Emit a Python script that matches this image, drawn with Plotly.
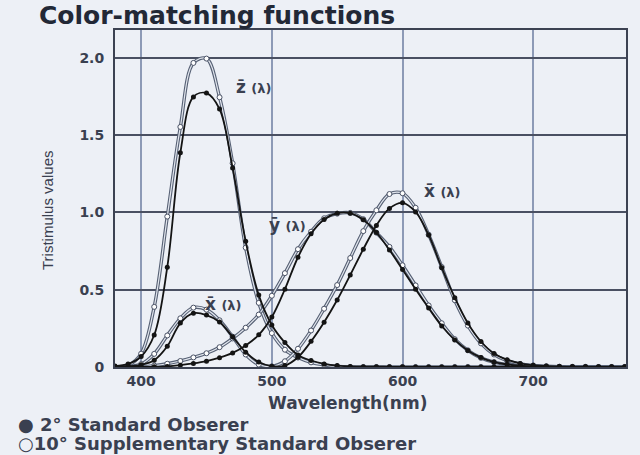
import plotly.graph_objects as go

# Wavelength samples (nm)
wavelengths = [380, 390, 400, 410, 420, 430, 440, 450, 460, 470,
               480, 490, 500, 510, 520, 530, 540, 550, 560, 570,
               580, 590, 600, 610, 620, 630, 640, 650, 660, 670,
               680, 690, 700, 710, 720, 730, 740, 750, 760, 770]

# 2-degree standard observer
x2 = [0.001, 0.004, 0.014, 0.044, 0.134, 0.284, 0.348, 0.336, 0.291, 0.195,
      0.096, 0.032, 0.005, 0.009, 0.063, 0.166, 0.290, 0.433, 0.595, 0.762,
      0.916, 1.026, 1.062, 1.003, 0.854, 0.642, 0.448, 0.284, 0.165, 0.087,
      0.047, 0.023, 0.011, 0.006, 0.003, 0.001, 0.001, 0.000, 0.000, 0.000]
y2 = [0.000, 0.000, 0.000, 0.001, 0.004, 0.012, 0.023, 0.038, 0.060, 0.091,
      0.139, 0.208, 0.323, 0.503, 0.710, 0.862, 0.954, 0.995, 0.995, 0.952,
      0.870, 0.757, 0.631, 0.503, 0.381, 0.265, 0.175, 0.107, 0.061, 0.032,
      0.017, 0.008, 0.004, 0.002, 0.001, 0.001, 0.000, 0.000, 0.000, 0.000]
z2 = [0.006, 0.020, 0.068, 0.207, 0.646, 1.386, 1.747, 1.772, 1.669, 1.288,
      0.813, 0.465, 0.272, 0.158, 0.078, 0.042, 0.020, 0.009, 0.004, 0.002,
      0.002, 0.001, 0.001, 0.000, 0.000, 0.000, 0.000, 0.000, 0.000, 0.000,
      0.000, 0.000, 0.000, 0.000, 0.000, 0.000, 0.000, 0.000, 0.000, 0.000]

# 10-degree supplementary standard observer
x10 = [0.000, 0.002, 0.019, 0.085, 0.204, 0.315, 0.384, 0.371, 0.302, 0.196,
       0.081, 0.016, 0.004, 0.037, 0.118, 0.236, 0.377, 0.530, 0.705, 0.879,
       1.014, 1.119, 1.124, 1.030, 0.856, 0.647, 0.432, 0.268, 0.153, 0.081,
       0.041, 0.020, 0.010, 0.005, 0.002, 0.001, 0.001, 0.000, 0.000, 0.000]
y10 = [0.000, 0.000, 0.002, 0.009, 0.021, 0.039, 0.062, 0.089, 0.128, 0.185,
       0.254, 0.339, 0.461, 0.607, 0.762, 0.875, 0.962, 0.992, 0.997, 0.956,
       0.869, 0.777, 0.658, 0.528, 0.398, 0.283, 0.180, 0.108, 0.059, 0.031,
       0.015, 0.007, 0.003, 0.002, 0.001, 0.000, 0.000, 0.000, 0.000, 0.000]
z10 = [0.001, 0.010, 0.086, 0.389, 0.973, 1.553, 1.967, 1.995, 1.745, 1.318,
       0.772, 0.415, 0.219, 0.112, 0.061, 0.030, 0.014, 0.004, 0.000, 0.000,
       0.000, 0.000, 0.000, 0.000, 0.000, 0.000, 0.000, 0.000, 0.000, 0.000,
       0.000, 0.000, 0.000, 0.000, 0.000, 0.000, 0.000, 0.000, 0.000, 0.000]

x_ticks = [400, 500, 600, 700]
x_tick_labels = ["400", "500", "600", "700"]
y_ticks = [0, 0.5, 1.0, 1.5, 2.0]
y_tick_labels = ["0", "0.5", "1.0", "1.5", "2.0"]

# Curve label positions (wavelength, value) and texts
curve_labels = [
    ("z\u0304", 486, 1.81),
    ("y\u0304", 512, 0.92),
    ("x\u0304", 630, 1.14),
    ("x\u0304", 463, 0.41),
]

BG = "#edf0f6"
INK = "#3a4050"
DARK = "#141414"

fig = go.Figure()

# 10-degree curves: hollow-looking line (dark outline + light core) with open dots
for series in (z10, y10, x10):
    fig.add_trace(go.Scatter(
        x=wavelengths, y=series, mode="lines",
        line=dict(color="#566074", width=3.4, shape="spline"),
        hoverinfo="skip", showlegend=False))
    fig.add_trace(go.Scatter(
        x=wavelengths, y=series, mode="lines+markers",
        line=dict(color="#e2e6ee", width=1.2, shape="spline"),
        marker=dict(symbol="circle", size=5, color="white",
                    line=dict(color="#4a5266", width=1)),
        showlegend=False))

# 2-degree curves: solid dark line with filled dots
for series in (z2, y2, x2):
    fig.add_trace(go.Scatter(
        x=wavelengths, y=series, mode="lines+markers",
        line=dict(color=DARK, width=1.8, shape="spline"),
        marker=dict(symbol="circle", size=5, color=DARK),
        showlegend=False))

annotations = []
for letter, wl, val in curve_labels:
    annotations.append(dict(
        x=wl, y=val, xref="x", yref="y", showarrow=False,
        text=f"<b>{letter}</b> <b><span style='font-size:13px'>(λ)</span></b>",
        font=dict(family="DejaVu Sans", size=17, color=INK)))

# Title
annotations.append(dict(
    x=37, y=455 - 16, xref="paper", yref="paper", showarrow=False,
    xanchor="left", yanchor="middle",
    text="<b>Color-matching functions</b>",
    font=dict(family="DejaVu Sans", size=25, color="#222836")))

# Axis titles
annotations.append(dict(
    x=347, y=455 - 403, xref="paper", yref="paper", showarrow=False,
    xanchor="center", yanchor="middle", text="<b>Wavelength(nm)</b>",
    font=dict(family="DejaVu Sans", size=17, color=INK)))
annotations.append(dict(
    x=47, y=455 - 211, xref="paper", yref="paper", showarrow=False,
    xanchor="center", yanchor="middle", textangle=-90,
    text="Tristimulus values",
    font=dict(family="Liberation Sans", size=15, color=INK)))

# Observer key
annotations.append(dict(
    x=16, y=455 - 424, xref="paper", yref="paper", showarrow=False,
    xanchor="left", yanchor="middle",
    text="<b>\u25CF 2° Standard Obserer</b>",
    font=dict(family="DejaVu Sans", size=18, color=INK)))
annotations.append(dict(
    x=16, y=455 - 443, xref="paper", yref="paper", showarrow=False,
    xanchor="left", yanchor="middle",
    text="<b>\u25CB10° Supplementary Standard Obserer</b>",
    font=dict(family="DejaVu Sans", size=18, color=INK)))

# Convert pixel-based annotation positions to paper fractions
W, H = 640, 455
ML, MR, MT, MB = 115, 14, 30, 88
for a in annotations:
    if a["xref"] == "paper":
        a["x"] = (a["x"] - ML) / (W - ML - MR)
        a["y"] = (a["y"] - MB) / (H - MT - MB)

fig.update_layout(
    width=W, height=H,
    margin=dict(l=ML, r=MR, t=MT, b=MB),
    paper_bgcolor=BG, plot_bgcolor=BG,
    annotations=annotations,
    xaxis=dict(range=[380, 771], tickvals=x_ticks, ticktext=x_tick_labels,
               showgrid=True, gridcolor="#8d9ab6", gridwidth=2,
               showline=True, linecolor="#3c4252", linewidth=2, mirror=True,
               zeroline=False, ticks="",
               tickfont=dict(family="DejaVu Sans", size=14, color=INK,
                             weight="bold")),
    yaxis=dict(range=[0, 2.18], tickvals=y_ticks, ticktext=y_tick_labels,
               showgrid=True, gridcolor="#4a5062", gridwidth=1.5,
               showline=True, linecolor="#3c4252", linewidth=2, mirror=True,
               zeroline=False, ticks="", ticklabelstandoff=6,
               tickfont=dict(family="DejaVu Sans", size=14, color=INK,
                             weight="bold")),
)

fig.write_html("out.html")
